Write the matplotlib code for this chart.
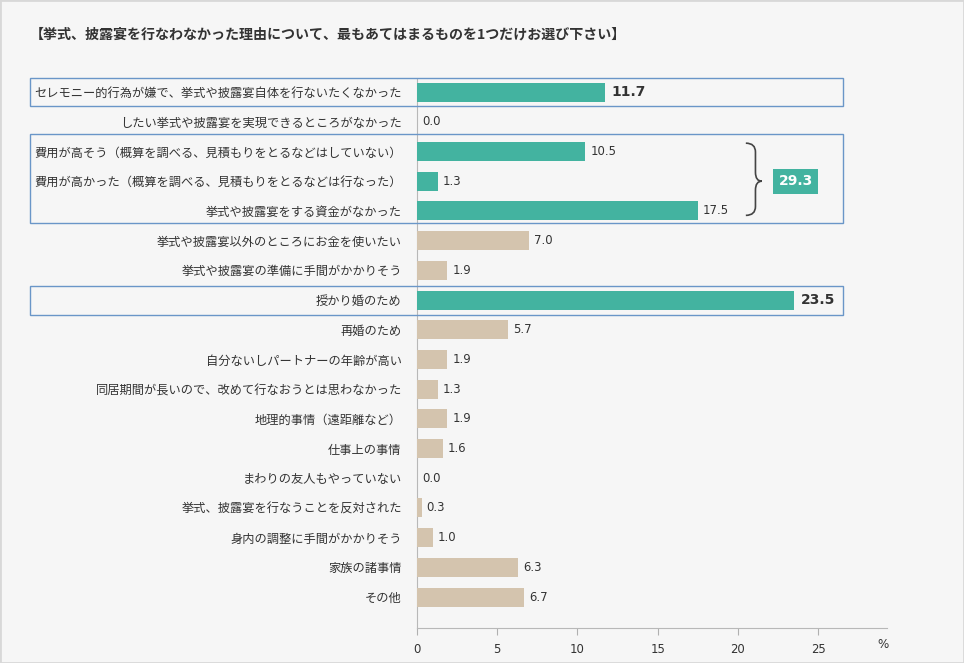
import matplotlib
matplotlib.use('Agg')
import matplotlib.pyplot as plt
from matplotlib.patches import Rectangle, PathPatch
from matplotlib.path import Path
from matplotlib.transforms import blended_transform_factory

plt.rcParams['font.family'] = ['Noto Sans CJK JP', 'DejaVu Sans']

title = '【挙式、披露宴を行なわなかった理由について、最もあてはまるものを1つだけお選び下さい】'

categories = [
    'セレモニー的行為が嫌で、挙式や披露宴自体を行ないたくなかった',
    'したい挙式や披露宴を実現できるところがなかった',
    '費用が高そう（概算を調べる、見積もりをとるなどはしていない）',
    '費用が高かった（概算を調べる、見積もりをとるなどは行なった）',
    '挙式や披露宴をする資金がなかった',
    '挙式や披露宴以外のところにお金を使いたい',
    '挙式や披露宴の準備に手間がかかりそう',
    '授かり婚のため',
    '再婚のため',
    '自分ないしパートナーの年齢が高い',
    '同居期間が長いので、改めて行なおうとは思わなかった',
    '地理的事情（遠距離など）',
    '仕事上の事情',
    'まわりの友人もやっていない',
    '挙式、披露宴を行なうことを反対された',
    '身内の調整に手間がかかりそう',
    '家族の諸事情',
    'その他',
]
values = [11.7, 0.0, 10.5, 1.3, 17.5, 7.0, 1.9, 23.5, 5.7, 1.9, 1.3, 1.9, 1.6, 0.0, 0.3, 1.0, 6.3, 6.7]
highlight = [0, 2, 3, 4, 7]
bold_rows = [0, 7]
group_rows = [2, 3, 4]
group_total = 29.3

teal = '#43b3a0'
beige = '#d4c4ae'
frame_blue = '#6a96c8'
text_col = '#333333'
num_font = 'DejaVu Sans'

fig = plt.figure(figsize=(9.64, 6.63), dpi=100)
fig.patch.set_facecolor('#f6f6f6')
fig.add_artist(Rectangle((0, 0), 1, 1, transform=fig.transFigure, fill=False,
                         edgecolor='#d8d8d8', lw=2))

ax = fig.add_axes([417 / 964, 1 - 628 / 663, (887 - 417) / 964, (628 - 79) / 663])
ax.set_facecolor('none')

n = len(categories)
ypos = list(range(n))
colors = [teal if i in highlight else beige for i in ypos]
ax.barh(ypos, values, height=0.64, color=colors, zorder=3)

ax.set_xlim(0, 29.3)
ax.set_ylim(n - 1 + 1.04, -0.44)
ax.set_xticks([0, 5, 10, 15, 20, 25])
ax.set_yticks(ypos)
ax.set_yticklabels(categories, fontsize=8.8, color=text_col)
ax.tick_params(axis='y', length=0, pad=11)
ax.tick_params(axis='x', length=5, color='#b0b0b0', labelsize=8.4, labelcolor=text_col, pad=6)
for lab in ax.get_xticklabels():
    lab.set_family(num_font)
for s in ['top', 'right']:
    ax.spines[s].set_visible(False)
ax.spines['left'].set_color('#b8b8b8')
ax.spines['bottom'].set_color('#b8b8b8')

for i, v in enumerate(values):
    if i in bold_rows:
        ax.text(v + 0.45, i, f'{v:.1f}', va='center', ha='left', fontsize=10,
                fontweight='bold', color=text_col, family=num_font, zorder=4)
    else:
        ax.text(v + 0.3, i, f'{v:.1f}', va='center', ha='left', fontsize=8.4,
                color=text_col, family=num_font, zorder=4)

ax.text((883 - 417) / 470, (628 - 645) / 549, '%', transform=ax.transAxes,
        ha='center', va='center', fontsize=8.6, color=text_col, family=num_font)

# frames around highlighted rows
bt = blended_transform_factory(fig.transFigure, ax.transData)
x0, x1 = 30 / 964, 843 / 964
for top, bottom in [(-0.46, 0.46), (2 - 0.6, 4 + 0.42), (7 - 0.46, 7 + 0.52)]:
    fig.add_artist(Rectangle((x0, top), x1 - x0, bottom - top, transform=bt,
                             fill=False, edgecolor=frame_blue, lw=1.0, clip_on=False))

# brace for the cost group
yt, ym, yb = group_rows[0] - 0.28, group_rows[1], group_rows[2] + 0.15
xl, xv, xp = 20.5, 21.1, 21.5
verts = [(xl, yt), (xv, yt), (xv, yt + 0.3),
         (xv, ym - 0.3), (xv, ym), (xp, ym),
         (xv, ym), (xv, ym + 0.3),
         (xv, yb - 0.3), (xv, yb), (xl, yb)]
codes = [Path.MOVETO, Path.CURVE3, Path.CURVE3,
         Path.LINETO, Path.CURVE3, Path.CURVE3,
         Path.CURVE3, Path.CURVE3,
         Path.LINETO, Path.CURVE3, Path.CURVE3]
ax.add_patch(PathPatch(Path(verts, codes), fill=False, edgecolor='#444444', lw=1.2,
                       clip_on=False))

ax.text(23.6, ym, f'{group_total:.1f}', ha='center', va='center', fontsize=10,
        fontweight='bold', color='white', family=num_font,
        bbox=dict(boxstyle='square,pad=0.4', facecolor=teal, edgecolor='none'))

fig.text(30 / 964, 1 - 35 / 663, title, ha='left', va='center', fontsize=10.1,
         fontweight='bold', color=text_col)

fig.savefig('out.png', dpi=100, facecolor=fig.get_facecolor())
